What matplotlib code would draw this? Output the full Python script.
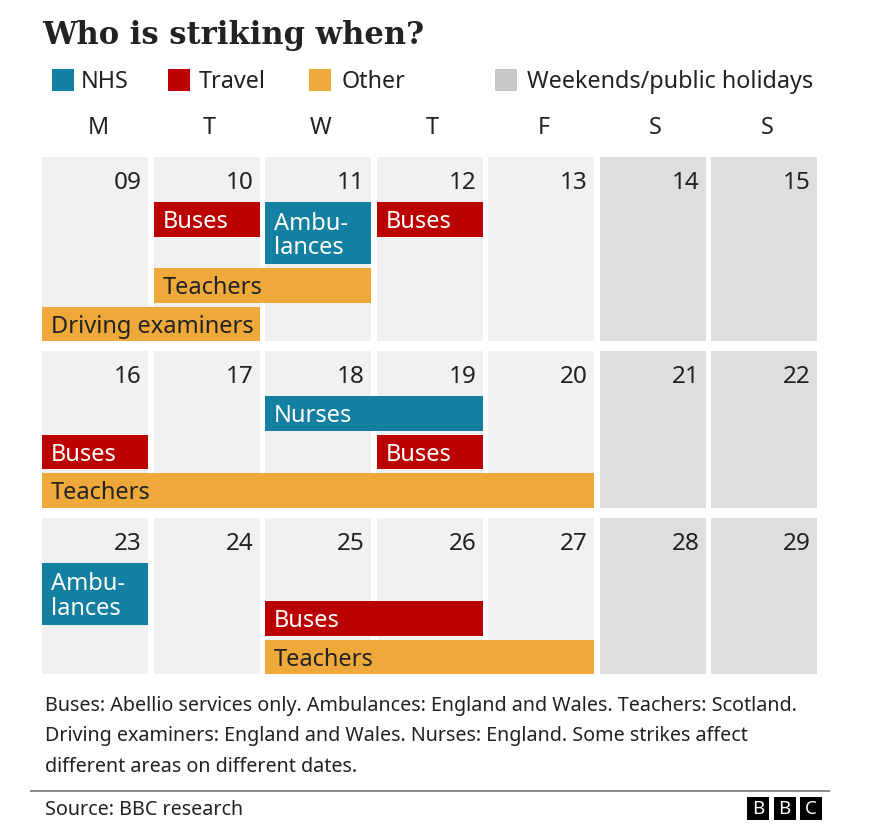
import matplotlib
matplotlib.use("Agg")
import matplotlib.pyplot as plt
from matplotlib.patches import Rectangle

# ---------------- data ----------------
day_letters = ["M", "T", "W", "T", "F", "S", "S"]
first_day = 9
days = list(range(9, 30))
weekend_cols = [5, 6]

legend_labels = ["NHS", "Travel", "Other", "Weekends/public holidays"]

strike_labels = ["Buses", "Ambu-\nlances", "Buses", "Teachers", "Driving examiners",
                 "Nurses", "Buses", "Buses", "Teachers",
                 "Ambu-\nlances", "Buses", "Teachers"]
strike_category = ["Travel", "NHS", "Travel", "Other", "Other",
                   "NHS", "Travel", "Travel", "Other",
                   "NHS", "Travel", "Other"]
strike_start = [10, 11, 12, 10, 9, 18, 16, 19, 16, 23, 25, 25]
strike_end = [10, 11, 12, 11, 10, 19, 16, 19, 20, 23, 26, 27]
strike_lane = [2, 2, 2, 1, 0, 2, 1, 1, 0, 2, 1, 0]

title = "Who is striking when?"
footnote = ["Buses: Abellio services only. Ambulances: England and Wales. Teachers: Scotland.",
            "Driving examiners: England and Wales. Nurses: England. Some strikes affect",
            "different areas on different dates."]
source = "Source: BBC research"

# ---------------- styles ----------------
colors = {"NHS": "#1380A1", "Travel": "#BB0000", "Other": "#EFA83A",
          "Weekends/public holidays": "#C8C8C8"}
cell_bg = "#F1F1F1"
weekend_bg = "#DEDEDE"
dark = "#222222"
sans = ["Noto Sans", "DejaVu Sans"]

W, H = 873, 835
fig = plt.figure(figsize=(W / 100, H / 100), dpi=100)
ax = fig.add_axes([0, 0, 1, 1])
ax.set_xlim(0, W)
ax.set_ylim(H, 0)
ax.axis("off")

# layout constants
x0, pitch, cell_w = 42, 111.5, 106
h1, h2, gap, header, week_gap = 34.5, 62, 4, 45, 10
grid_top = 157

def col_x(c):
    return x0 + c * pitch

# title
ax.text(42, 44, title, fontsize=22.1, fontweight="bold", family="DejaVu Serif",
        color=dark, va="baseline", ha="left")

# legend
leg_sq_x = [52, 168, 309, 495]
leg_tx_x = [81, 199, 342, 527]
for lab, sx, tx in zip(legend_labels, leg_sq_x, leg_tx_x):
    ax.add_patch(Rectangle((sx, 69), 22, 22, color=colors[lab], lw=0))
    ax.text(tx, 82, lab, fontsize=16.8, family=sans, color=dark, va="center", ha="left")

# day letters
for c, d in enumerate(day_letters):
    ax.text(col_x(c) + cell_w / 2 + 3, 128, d, fontsize=16.8, family=sans, color=dark,
            va="center", ha="center")

# weeks
n_weeks = (days[-1] - first_day) // 7 + 1
week = [(s - first_day) // 7 for s in strike_start]
c_start = [(s - first_day) % 7 for s in strike_start]
c_end = [(e - first_day) % 7 for e in strike_end]
two_line = ["\n" in l for l in strike_labels]

top = grid_top
for w in range(n_weeks):
    idx = [i for i in range(len(strike_labels)) if week[i] == w]
    n_lanes = max(strike_lane[i] for i in idx) + 1
    lane_top = [-h1]
    for k in range(1, n_lanes):
        conflict = False
        for i in idx:
            if strike_lane[i] == k and two_line[i]:
                for j in idx:
                    if strike_lane[j] == k - 1 and not (c_end[j] < c_start[i] or c_start[j] > c_end[i]):
                        conflict = True
        if conflict:
            lane_top.append(lane_top[-1] - gap - h2)
        else:
            lane_top.append(lane_top[-1] - (h1 + gap))
    span = -min(lane_top)
    height = span + header
    bottom = top + height
    for c in range(7):
        bg = weekend_bg if c in weekend_cols else cell_bg
        ax.add_patch(Rectangle((col_x(c), top), cell_w, height, color=bg, lw=0))
        day = first_day + w * 7 + c
        ax.text(col_x(c) + cell_w - 6, top + 26, f"{day:02d}", fontsize=17.5, family=sans,
                color=dark, va="center", ha="right")
    for i in idx:
        bt = bottom + lane_top[strike_lane[i]]
        bh = h2 if two_line[i] else h1
        bx = col_x(c_start[i])
        bw = col_x(c_end[i]) + cell_w - bx
        cat = strike_category[i]
        ax.add_patch(Rectangle((bx, bt), bw, bh, color=colors[cat], lw=0))
        tc = dark if cat == "Other" else "white"
        ax.text(bx + 9, bt + bh / 2 + 3, strike_labels[i], fontsize=17, family=sans,
                color=tc, va="center", ha="left", linespacing=1.02)
    top = bottom + week_gap

# footnote
for k, line in enumerate(footnote):
    ax.text(45, 706 + k * 30.5, line, fontsize=14.2, family=sans, color=dark,
            va="center", ha="left")

ax.plot([30, 830], [791, 791], color="#808080", lw=1.3, solid_capstyle="butt")
ax.text(45, 810, source, fontsize=14.2, family=sans, color=dark, va="center", ha="left")

# BBC logo
for k, ch in enumerate("BBC"):
    lx = 747 + k * 26.5
    ax.add_patch(Rectangle((lx, 797), 22, 23, color="black", lw=0))
    ax.text(lx + 11, 809, ch, fontsize=13.5, fontweight="bold", family=sans,
            color="white", va="center", ha="center")

fig.savefig("out.png", dpi=100, facecolor="white")
